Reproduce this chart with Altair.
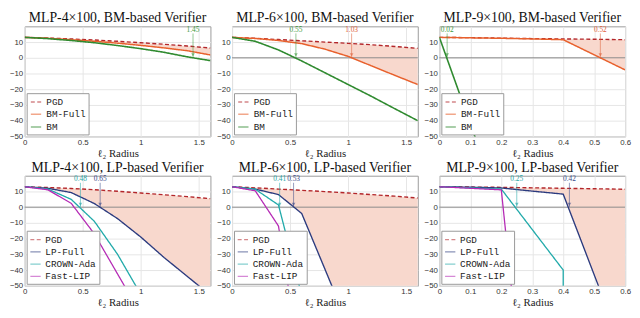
import altair as alt
import pandas as pd

# ---------------- data ----------------
# Panel 1: MLP-4x100, BM-based Verifier
p1_x = [0, 0.2, 0.4, 0.6, 0.8, 1.0, 1.2, 1.4, 1.6]
p1_pgd = [13, 12.6, 12.0, 11.3, 10.5, 9.6, 8.6, 7.5, 6.2]
p1_full = [13, 12.4, 11.5, 10.5, 9.3, 7.9, 6.3, 4.5, 1.8]
p1_bm_x = [0, 0.2, 0.4, 0.6, 0.8, 1.0, 1.2, 1.4, 1.6]
p1_bm = [13, 12.2, 11.0, 9.6, 7.8, 5.8, 3.5, 0.6, -1.8]

# Panel 2: MLP-6x100, BM-based Verifier
p2_x = [0, 0.2, 0.4, 0.6, 0.8, 1.0, 1.2, 1.4, 1.6]
p2_pgd = [13, 12.4, 11.6, 10.8, 10.0, 9.2, 8.3, 7.2, 6.0]
p2_full = [13, 12.3, 11.0, 9.0, 5.5, 0.9, -5.1, -11.1, -17.0]
p2_bm_x = [0, 0.2, 0.4, 0.6, 0.8, 1.0, 1.2, 1.4, 1.6]
p2_bm = [13, 10.5, 5.0, -2.0, -9.5, -17.0, -24.5, -32.3, -40.0]

# Panel 3: MLP-9x100, BM-based Verifier
p3_x = [0, 0.1, 0.2, 0.3, 0.4, 0.5, 0.6]
p3_pgd = [13, 12.8, 12.5, 12.2, 12.0, 11.8, 11.5]
p3_full = [13, 12.7, 12.4, 12.0, 11.5, 1.9, -7.7]
p3_bm_x = [0, 0.12]
p3_bm = [13, -53]

# Panel 4: MLP-4x100, LP-based Verifier
p4_x = [0, 0.2, 0.4, 0.6, 0.8, 1.0, 1.2, 1.4, 1.6]
p4_pgd = [13, 12.5, 11.9, 11.1, 10.1, 9.0, 7.9, 6.7, 5.4]
p4_full = [13, 12.0, 9.3, 2.3, -7.3, -19.0, -32.0, -44.0, -56.0]
p4_crown_x = [0, 0.2, 0.4, 0.6, 0.8, 1.0]
p4_crown = [13, 11.5, 5.0, -9.0, -30.0, -55.5]
p4_fast_x = [0, 0.2, 0.4, 0.6, 0.8, 1.0]
p4_fast = [13, 11.0, 2.5, -17.0, -42.5, -68.0]

# Panel 5: MLP-6x100, LP-based Verifier
p5_x = [0, 0.2, 0.4, 0.6, 0.8, 1.0, 1.2, 1.4, 1.6]
p5_pgd = [13, 12.3, 11.5, 10.7, 9.9, 9.0, 8.0, 7.0, 5.8]
p5_full = [13, 11.5, 8.0, -4.0, -39.4, -75.0, -110.0, -145.0, -180.0]
p5_crown_x = [0, 0.2, 0.4, 0.6]
p5_crown = [13, 11.4, 1.4, -56.0]
p5_fast_x = [0, 0.2, 0.4, 0.5]
p5_fast = [13, 10.4, -12.0, -58.0]

# Panel 6: MLP-9x100, LP-based Verifier
p6_x = [0, 0.1, 0.2, 0.3, 0.4, 0.5, 0.6]
p6_pgd = [13, 12.8, 12.6, 12.3, 12.0, 11.7, 11.4]
p6_full = [13, 12.7, 12.2, 10.2, 8.3, -43.0, -94.0]
p6_crown_x = [0, 0.2, 0.4, 0.4]
p6_crown = [13, 11.5, -40.0, -55.0]
p6_fast_x = [0, 0.2, 0.24]
p6_fast = [13, 11.0, -65.0]

# annotations: (x, label, colour)
p1_ann = [(1.45, "1.45", "#3d9a3d")]
p2_ann = [(0.55, "0.55", "#3d9a3d"), (1.03, "1.03", "#e0603a")]
p3_ann = [(0.025, "0.02", "#3d9a3d"), (0.52, "0.52", "#e0603a")]
p4_ann = [(0.48, "0.48", "#1fa5a5"), (0.65, "0.65", "#3a4a8a")]
p5_ann = [(0.41, "0.41", "#1fa5a5"), (0.53, "0.53", "#3a4a8a")]
p6_ann = [(0.25, "0.25", "#1fa5a5"), (0.42, "0.42", "#3a4a8a")]

titles = [
    "MLP-4×100, BM-based Verifier", "MLP-6×100, BM-based Verifier", "MLP-9×100, BM-based Verifier",
    "MLP-4×100, LP-based Verifier", "MLP-6×100, LP-based Verifier", "MLP-9×100, LP-based Verifier",
]

C_PGD = "#b3262a"
C_BMF = "#e8602c"
C_BM = "#2f8a2f"
C_LPF = "#2b3a7e"
C_CROWN = "#22aaaa"
C_FAST = "#b52ab5"
FILL = "#f8d8cd"

W, H = 189, 112
Y_TICKS = [-50, -40, -30, -20, -10, 0, 10]


def panel(title, xdom, xticks, base_x, pgd, full, extra, names, colors, dashes, widths, ann, zero=True):
    rows = []
    i = 0
    series = [(names[0], base_x, pgd), (names[1], base_x, full)] + extra
    for name, xs, ys in series:
        for xv, yv in zip(xs, ys):
            rows.append({"x": xv, "y": yv, "s": name, "i": i})
            i += 1
    df = pd.DataFrame(rows)
    area_df = pd.DataFrame({"x": base_x, "hi": pgd, "lo": full})
    ann_df = pd.DataFrame({
        "x": [a[0] for a in ann], "t": [a[1] for a in ann], "c": [a[2] for a in ann],
        "y0": [0.0] * len(ann), "y1": [15.5] * len(ann), "ya": [1.8] * len(ann), "yt": [17.6] * len(ann),
    })
    zero_df = pd.DataFrame({"y": [0.0]})

    xs = alt.Scale(domain=xdom, nice=False, zero=False)
    ys = alt.Scale(domain=[-50, 20], nice=False, zero=False)
    xax = alt.Axis(values=xticks, format="~g", title="ℓ₂ Radius", labelFlush=False, labelOverlap=False)
    yax = alt.Axis(values=Y_TICKS, title=None, labelOverlap=False, labelFlush=False)

    def X(f):
        return alt.X(f, type="quantitative", scale=xs, axis=xax)

    def Y(f):
        return alt.Y(f, type="quantitative", scale=ys, axis=yax)

    area = alt.Chart(area_df).mark_area(color=FILL, clip=True, opacity=1).encode(
        x=X("x"), y=Y("hi"), y2="lo:Q",
    )
    layers = [area]
    if zero:
        layers.append(
            alt.Chart(zero_df).mark_rule(color="#8a8a8a", strokeWidth=1).encode(y=Y("y"))
        )
    leg = alt.Legend(
        title=None, orient="bottom-left", offset=2, fillColor="white", strokeColor="#999",
        padding=3, labelFont="Liberation Mono", labelFontSize=9.5, labelColor="#222",
        symbolType="stroke", symbolSize=110, symbolStrokeWidth=1.6, rowPadding=1.5,
    )
    lines = alt.Chart(df).mark_line(clip=True).encode(
        x=X("x"),
        y=Y("y"),
        color=alt.Color("s:N", scale=alt.Scale(domain=names, range=colors), legend=leg),
        strokeDash=alt.StrokeDash("s:N", scale=alt.Scale(domain=names, range=dashes), legend=leg),
        strokeWidth=alt.StrokeWidth("s:N", scale=alt.Scale(domain=names, range=widths), legend=None),
        order="i:Q",
    )
    rules = alt.Chart(ann_df).mark_rule(strokeWidth=1, opacity=0.55, clip=True).encode(
        x=X("x"), y=Y("y0"), y2="y1:Q", color=alt.Color("c:N", scale=None)
    )
    arrows = alt.Chart(ann_df).mark_point(shape="triangle-down", size=14, filled=True, opacity=0.6).encode(
        x=X("x"), y=Y("ya"), color=alt.Color("c:N", scale=None)
    )
    texts = alt.Chart(ann_df).mark_text(font="Liberation Serif", fontSize=7.5, baseline="middle").encode(
        x=X("x"), y=Y("yt"), text="t:N", color=alt.Color("c:N", scale=None)
    )
    layers += [lines, rules, arrows, texts]
    return alt.layer(*layers).properties(
        width=W, height=H,
        title=alt.TitleParams(title, font="Liberation Serif", fontSize=14, fontWeight="normal", color="#111", offset=1),
    )


bm_names = ["PGD", "BM-Full", "BM"]
bm_colors = [C_PGD, C_BMF, C_BM]
bm_dash = [[4, 2.5], [1, 0], [1, 0]]
bm_w = [1.4, 1.6, 1.4]
lp_names = ["PGD", "LP-Full", "CROWN-Ada", "Fast-LIP"]
lp_colors = [C_PGD, C_LPF, C_CROWN, C_FAST]
lp_dash = [[4, 2.5], [1, 0], [1, 0], [1, 0]]
lp_w = [1.4, 1.3, 1.1, 1.1]
X16 = [0, 1.6]
T16 = [0, 0.5, 1, 1.5]
X06 = [0, 0.6]
T06 = [0, 0.1, 0.2, 0.3, 0.4, 0.5, 0.6]

c1 = panel(titles[0], X16, T16, p1_x, p1_pgd, p1_full, [("BM", p1_bm_x, p1_bm)],
           bm_names, bm_colors, bm_dash, bm_w, p1_ann, zero=False)
c2 = panel(titles[1], X16, T16, p2_x, p2_pgd, p2_full, [("BM", p2_bm_x, p2_bm)],
           bm_names, bm_colors, bm_dash, bm_w, p2_ann)
c3 = panel(titles[2], X06, T06, p3_x, p3_pgd, p3_full, [("BM", p3_bm_x, p3_bm)],
           bm_names, bm_colors, bm_dash, bm_w, p3_ann)
c4 = panel(titles[3], X16, T16, p4_x, p4_pgd, p4_full,
           [("CROWN-Ada", p4_crown_x, p4_crown), ("Fast-LIP", p4_fast_x, p4_fast)],
           lp_names, lp_colors, lp_dash, lp_w, p4_ann)
c5 = panel(titles[4], X16, T16, p5_x, p5_pgd, p5_full,
           [("CROWN-Ada", p5_crown_x, p5_crown), ("Fast-LIP", p5_fast_x, p5_fast)],
           lp_names, lp_colors, lp_dash, lp_w, p5_ann)
c6 = panel(titles[5], X06, T06, p6_x, p6_pgd, p6_full,
           [("CROWN-Ada", p6_crown_x, p6_crown), ("Fast-LIP", p6_fast_x, p6_fast)],
           lp_names, lp_colors, lp_dash, lp_w, p6_ann)


def indep(c):
    return c.resolve_scale(
        x="independent", y="independent", color="independent",
        strokeDash="independent", strokeWidth="independent",
    ).resolve_legend(color="independent", strokeDash="independent", strokeWidth="independent")


row1 = indep(alt.hconcat(c1, c2, c3, spacing=4))
row2 = indep(alt.hconcat(c4, c5, c6, spacing=4))
chart = indep(alt.vconcat(row1, row2, spacing=1)).properties(padding=0).configure_view(
    stroke="#9a9a9a", strokeWidth=1
).configure_axis(
    labelFont="Liberation Sans", labelFontSize=8, labelColor="#333", labelPadding=2,
    ticks=False, domain=False, grid=True, gridColor="#e6e6e6", gridWidth=1,
    titleFont="Liberation Serif", titleFontSize=11, titleFontWeight="normal", titleColor="#222",
    titlePadding=1,
)

chart.save("out.html", embed_options={"renderer": "svg", "actions": False})
